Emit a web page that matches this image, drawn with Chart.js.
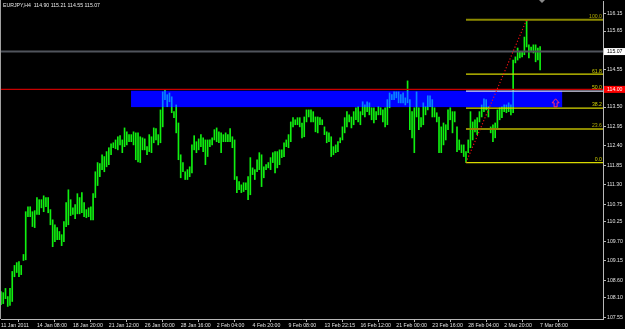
<!DOCTYPE html>
<html><head><meta charset="utf-8">
<script src="https://cdn.jsdelivr.net/npm/chart.js@4/dist/chart.umd.min.js"></script>
<style>html,body{margin:0;padding:0;background:#000;}canvas{display:block;}</style>
</head><body>
<canvas id="c" width="625" height="329"></canvas>
<script>
const symbolTitle = "EURJPY,H4  114.90 115.21 114.55 115.07";

const highs = [108.28,108.25,108.37,108.14,108.37,108.85,109.02,109.10,109.13,109.02,
109.33,110.54,110.68,110.68,110.54,110.57,110.94,110.88,110.88,110.99,
110.94,110.94,110.60,110.31,110.17,110.09,109.98,109.89,110.26,110.80,
111.16,110.88,110.65,110.74,111.05,110.94,111.08,110.80,110.60,110.65,
110.68,111.05,111.67,111.93,111.90,112.15,112.10,112.24,112.35,112.46,
112.49,112.57,112.66,112.69,112.57,112.91,112.80,112.72,112.72,112.80,
112.77,112.77,112.66,112.63,112.60,112.38,112.72,112.66,112.91,112.89,
112.72,113.42,113.93,113.99,113.85,113.90,113.79,113.37,113.56,113.05,
112.15,111.93,111.67,111.73,111.81,112.43,112.69,112.52,112.60,112.72,
112.63,112.57,112.57,112.57,112.63,112.86,112.91,112.80,112.77,112.72,
112.77,112.72,112.89,112.66,112.57,111.53,111.39,111.30,111.36,111.36,
111.53,112.07,111.78,111.73,112.01,112.21,112.15,111.81,111.87,111.93,
112.07,112.21,112.24,112.24,112.29,112.29,112.49,112.57,112.72,113.08,
113.20,113.14,113.20,113.20,113.05,113.22,113.42,113.42,113.42,113.37,
113.22,113.22,113.20,113.14,112.94,112.80,112.77,112.66,112.38,112.43,
112.52,112.63,112.94,113.20,113.37,113.28,113.22,113.37,113.48,113.51,
113.37,113.65,113.56,113.65,113.62,113.48,113.48,113.37,113.51,113.48,
113.42,113.48,113.71,113.90,113.85,113.93,113.93,113.93,113.85,113.90,
113.76,114.24,113.71,113.37,113.48,113.93,113.48,113.20,113.62,113.51,
113.82,113.82,113.71,113.48,113.34,113.22,112.94,113.05,113.00,113.42,
113.48,113.37,113.37,112.94,112.57,112.43,112.43,112.24,112.57,113.37,
113.08,113.14,113.20,113.37,113.56,113.73,113.71,113.51,112.94,113.00,
113.05,113.42,113.48,113.51,113.56,113.56,113.62,113.56,114.83,114.92,
115.17,115.06,115.06,115.48,115.97,115.26,115.20,115.26,115.26,115.17,
115.21];

const lows = [107.91,107.94,108.08,107.86,107.89,108.00,108.70,108.82,108.70,108.76,
109.16,109.18,110.40,110.40,110.12,110.09,110.46,110.46,110.65,110.54,
110.68,110.51,110.17,109.55,109.69,109.75,109.75,109.58,109.69,110.12,
110.17,110.43,110.46,110.34,110.48,110.48,110.51,110.40,110.37,110.40,
110.31,110.31,110.94,111.28,111.53,111.73,111.67,111.81,111.87,112.15,
112.35,112.32,112.29,112.43,112.21,112.38,112.43,112.52,112.52,112.43,
112.01,111.95,111.93,112.29,112.29,112.15,112.24,112.21,112.49,112.57,
112.43,112.49,112.94,113.71,113.51,113.65,113.34,113.20,112.77,112.01,
111.50,111.67,111.45,111.45,111.53,111.64,112.29,112.21,112.29,112.38,
112.24,111.87,112.10,112.38,112.43,112.57,112.52,112.49,112.21,112.52,
112.52,112.52,112.52,112.35,111.45,111.08,111.16,111.08,111.11,111.16,
110.88,111.02,111.59,111.45,111.67,111.73,111.25,111.50,111.73,111.78,
111.73,111.93,111.64,111.78,111.87,112.07,112.10,112.38,112.35,112.52,
112.94,113.00,113.00,112.94,112.63,112.66,113.08,113.22,113.08,113.08,
112.80,112.77,113.00,113.00,112.72,112.49,112.52,112.10,112.15,112.21,
112.24,112.49,112.57,112.77,112.94,113.08,112.91,113.00,113.14,113.08,
113.00,113.28,113.22,113.37,113.28,113.14,113.05,113.14,113.28,113.28,
113.08,112.94,113.00,113.48,113.71,113.71,113.76,113.62,113.62,113.62,
113.56,113.62,112.86,112.63,112.21,113.22,112.86,112.94,113.00,113.28,
113.42,113.51,113.22,113.22,113.08,112.21,112.21,112.43,112.57,112.86,
113.14,112.77,113.08,112.24,112.29,112.21,112.10,111.93,112.21,112.35,
112.57,112.80,112.72,113.08,113.22,113.37,113.42,113.22,112.77,112.52,
112.63,112.86,113.14,113.20,113.37,113.34,113.37,113.28,113.34,114.75,
114.83,114.89,114.92,114.98,115.20,114.89,115.06,115.03,114.78,114.83,
114.55];

const xTickLabels = ["11 Jan 2011","14 Jan 08:00","18 Jan 20:00","21 Jan 12:00","26 Jan 00:00","28 Jan 16:00","2 Feb 04:00","4 Feb 20:00","9 Feb 08:00","13 Feb 22:15","16 Feb 12:00","21 Feb 00:00","23 Feb 16:00","28 Feb 04:00","2 Mar 20:00","7 Mar 08:00"];
const barsPerLabel = 16;
const totalSlots = 268;

const yTicks = [116.15,115.65,114.55,113.50,112.95,112.40,111.85,111.30,110.75,110.25,109.70,109.15,108.60,108.10,107.55];
const yMin = 107.505, yMax = 116.50;

const bidPrice = 115.07;
const levelPrice = 114.00;

const zoneBars = [57.9, 249.8];
const zonePrices = [113.96, 113.50];

const fibNames = ["0.0","23.6","38.2","50.0","61.8","100.0"];
const fibPrices = [111.93,112.88,113.47,113.95,114.43,115.97];
const fibFromBar = 207, fibToBar = 234;

const arrowBar = 246.9, arrowPrice = 113.62;

const FONT = '5.2px "Liberation Sans", Arial, sans-serif';

const overlay = {
  id: 'overlay',
  afterDatasetsDraw(chart) {
    const {ctx, chartArea: a, scales: {x, y}} = chart;
    ctx.save();
    ctx.beginPath(); ctx.rect(a.left, a.top, a.right - a.left, a.bottom - a.top); ctx.clip();
    const rx1 = x.getPixelForValue(zoneBars[0]), rx2 = x.getPixelForValue(zoneBars[1]);
    const ry1 = y.getPixelForValue(zonePrices[0]), ry2 = y.getPixelForValue(zonePrices[1]);
    ctx.globalCompositeOperation = 'lighter';
    ctx.fillStyle = '#0000ff';
    ctx.fillRect(rx1, ry1, rx2 - rx1, ry2 - ry1);
    ctx.globalCompositeOperation = 'source-over';
    ctx.fillStyle = 'rgba(0,0,255,0.45)';
    ctx.fillRect(rx1, ry1, rx2 - rx1, ry2 - ry1);

    function hline(price, x1, color, w) {
      const py = y.getPixelForValue(price);
      ctx.strokeStyle = color; ctx.lineWidth = w;
      ctx.beginPath(); ctx.moveTo(x1, py); ctx.lineTo(a.right, py); ctx.stroke();
      return py;
    }
    hline(bidPrice, a.left, '#50545c', 2);
    hline(levelPrice, a.left, '#c80000', 1.4);

    const fx = x.getPixelForValue(fibFromBar);
    const fibColors = ['#d8d800','#8c8a00','#d8d800','#d8d8f0','#d8d800','#8c8a00'];
    const fibWidths = [1.2,2,1.2,1.2,1.2,2];
    ctx.font = FONT;
    ctx.textAlign = 'right'; ctx.textBaseline = 'bottom';
    fibPrices.forEach((p, k) => {
      const py = hline(p, fx, fibColors[k], fibWidths[k]);
      ctx.fillStyle = k === 1 || k === 5 ? '#b0aa00' : '#d0d000';
      ctx.fillText(fibNames[k], a.right - 1, py - 0.5);
    });
    ctx.strokeStyle = '#ff1010'; ctx.lineWidth = 1.1; ctx.setLineDash([1.2, 2]);
    ctx.beginPath();
    ctx.moveTo(x.getPixelForValue(fibFromBar), y.getPixelForValue(fibPrices[0]));
    ctx.lineTo(x.getPixelForValue(fibToBar), y.getPixelForValue(fibPrices[5]));
    ctx.stroke();
    ctx.setLineDash([]);

    const ax = x.getPixelForValue(arrowBar), ay = y.getPixelForValue(arrowPrice);
    ctx.strokeStyle = '#ff3070'; ctx.lineWidth = 1;
    ctx.beginPath();
    ctx.moveTo(ax, ay - 4); ctx.lineTo(ax + 3.5, ay); ctx.lineTo(ax + 1.5, ay);
    ctx.lineTo(ax + 1.5, ay + 4); ctx.lineTo(ax - 1.5, ay + 4); ctx.lineTo(ax - 1.5, ay);
    ctx.lineTo(ax - 3.5, ay); ctx.closePath(); ctx.stroke();
    ctx.restore();
  },
  afterDraw(chart) {
    const {ctx, chartArea: a, scales: {y}} = chart;
    ctx.save();
    ctx.strokeStyle = '#a0a0a0'; ctx.lineWidth = 1;
    ctx.beginPath(); ctx.moveTo(0.5, 0); ctx.lineTo(0.5, a.bottom); ctx.stroke();
    ctx.font = FONT; ctx.fillStyle = '#e8e8e8'; ctx.textAlign = 'left'; ctx.textBaseline = 'middle';
    ctx.fillText(symbolTitle, 3, 5.5);
    function tag(price, bg, fg) {
      const py = y.getPixelForValue(price);
      ctx.fillStyle = bg; ctx.fillRect(a.right + 1, py - 3.5, 625 - a.right - 1, 7);
      ctx.fillStyle = fg; ctx.textAlign = 'left'; ctx.textBaseline = 'middle';
      ctx.fillText(price.toFixed(2), a.right + 4, py + 0.3);
    }
    tag(bidPrice, '#ffffff', '#000000');
    tag(levelPrice, '#ff0000', '#ffffff');
    ctx.fillStyle = '#8a8a8a';
    ctx.beginPath(); ctx.moveTo(539, 0); ctx.lineTo(545, 0); ctx.lineTo(542, 3); ctx.closePath(); ctx.fill();
    ctx.restore();
  }
};

const barData = highs.map((h, i) => ({x: i, y: [lows[i], h]}));

function noPad(s) { s.paddingTop = 0; s.paddingBottom = 0; s.paddingLeft = 0; s.paddingRight = 0; }

new Chart(document.getElementById('c'), {
  type: 'bar',
  data: { datasets: [{ data: barData, backgroundColor: '#10f010', borderWidth: 0, barThickness: 1, grouped: false }] },
  options: {
    responsive: false, animation: false, devicePixelRatio: 1,
    layout: { padding: { left: 1, top: 1, right: 0, bottom: 0 } },
    plugins: { legend: { display: false }, tooltip: { enabled: false }, title: { display: false } },
    scales: {
      x: {
        type: 'linear', position: 'bottom', min: 0, max: totalSlots, offset: false,
        afterBuildTicks(s) { s.ticks = xTickLabels.map((_, k) => ({ value: k * barsPerLabel })); },
        afterFit(s) { s.height = 10; noPad(s); },
        grid: { drawOnChartArea: false, drawTicks: true, tickLength: 3, color: '#b8b8b8', lineWidth: 1 },
        border: { display: true, color: '#b8b8b8', width: 1 },
        ticks: {
          autoSkip: false, maxRotation: 0, minRotation: 0, align: 'start', padding: 0,
          color: '#e0e0e0', font: { family: '"Liberation Sans", Arial, sans-serif', size: 5.2 },
          callback(v) { return xTickLabels[Math.round(v / barsPerLabel)]; }
        }
      },
      y: {
        type: 'linear', position: 'right', min: yMin, max: yMax,
        afterBuildTicks(s) { s.ticks = yTicks.map(v => ({ value: v })); },
        afterFit(s) { s.width = 22; noPad(s); },
        grid: { drawOnChartArea: false, drawTicks: true, tickLength: 3, color: '#b8b8b8', lineWidth: 1 },
        border: { display: true, color: '#b8b8b8', width: 1 },
        ticks: {
          autoSkip: false, padding: 1, color: '#e0e0e0',
          font: { family: '"Liberation Sans", Arial, sans-serif', size: 5.2 },
          callback(v) { return Number(v).toFixed(2); }
        }
      }
    }
  },
  plugins: [overlay]
});
</script>
</body></html>
